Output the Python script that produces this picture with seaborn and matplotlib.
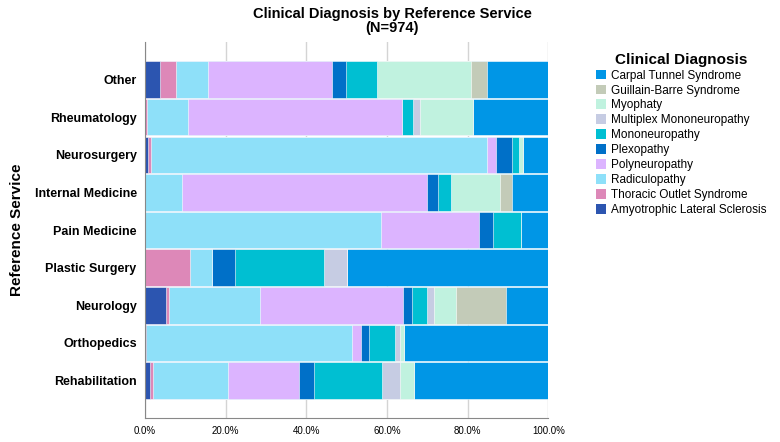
import numpy as np
import pandas as pd
import matplotlib
matplotlib.use('Agg')
from matplotlib import pyplot as plt
from matplotlib.patches import Patch
import seaborn as sns

services = ['Other', 'Rheumatology', 'Neurosurgery', 'Internal Medicine', 'Pain Medicine',
            'Plastic Surgery', 'Neurology', 'Orthopedics', 'Rehabilitation']

# stacking order, left to right (percent of each service)
diagnoses = ['Amyotrophic Lateral Sclerosis', 'Thoracic Outlet Syndrome', 'Radiculopathy',
             'Polyneuropathy', 'Plexopathy', 'Mononeuropathy', 'Multiplex Mononeuropathy',
             'Myophaty', 'Guillain-Barre Syndrome', 'Carpal Tunnel Syndrome']

als       = [3.8, 0.0, 0.7, 0.0, 0.0, 0.0, 5.3, 0.3, 1.2]
tos       = [3.8, 0.5, 0.8, 0.0, 0.0, 11.1, 0.7, 0.0, 0.7]
radic     = [7.9, 10.2, 83.4, 9.1, 58.6, 5.6, 22.5, 51.0, 18.7]
poly      = [30.8, 53.0, 2.3, 60.8, 24.3, 0.0, 35.5, 2.3, 17.6]
plexo     = [3.6, 0.0, 3.9, 2.9, 3.3, 5.5, 2.2, 2.1, 3.8]
mono      = [7.7, 2.7, 1.7, 3.1, 7.0, 22.2, 3.7, 6.4, 16.8]
multiplex = [0.0, 1.8, 0.0, 0.0, 0.0, 5.6, 1.7, 1.1, 4.5]
myo       = [23.2, 13.0, 0.9, 12.2, 0.0, 0.0, 5.6, 1.0, 3.3]
gbs       = [3.9, 0.0, 0.0, 2.9, 0.0, 0.0, 12.4, 0.0, 0.0]
cts       = [15.3, 18.7, 6.4, 9.1, 6.8, 50.0, 10.5, 35.9, 33.4]

colors = ['#2c55b0', '#dd88b8', '#8ee0f9', '#dcb4ff', '#0070c8', '#00bfd2',
          '#c6cce3', '#c0f2df', '#c3cbb8', '#0096e6']

df = pd.DataFrame(dict(zip(diagnoses, [als, tos, radic, poly, plexo, mono,
                                       multiplex, myo, gbs, cts])), index=services)
df = df.div(df.sum(axis=1), axis=0)
cum = df.cumsum(axis=1)

plt.rcParams['font.family'] = ['Liberation Sans', 'DejaVu Sans']
fig = plt.figure(figsize=(7.8, 4.42), dpi=100)
ax = fig.add_axes([0.186, 0.054, 0.517, 0.851])

for diag, col in reversed(list(zip(diagnoses, colors))):
    sns.barplot(x=cum[diag].values, y=services, orient='h', color=col, width=0.97,
                saturation=1, edgecolor='white', linewidth=0.4, ax=ax, zorder=2)

ax.set_xlim(0, 1)
ax.set_ylim(9.0, -1.0)
ax.set_xticks(np.arange(0, 1.01, 0.2))
ax.set_xticklabels([f'{v*100:.1f}%' for v in np.arange(0, 1.01, 0.2)], fontsize=7)
ax.xaxis.grid(True, color='#d4d4d4', linewidth=1, zorder=0)
ax.set_axisbelow(True)
ax.tick_params(axis='both', length=0, pad=6)
for lbl in ax.get_yticklabels():
    lbl.set_fontweight('bold')
    lbl.set_fontsize(9)
ax.set_xlabel('')
ax.set_ylabel('Reference Service', fontsize=11, fontweight='bold', labelpad=8)
for s in ['top', 'right']:
    ax.spines[s].set_visible(False)
for s in ['left', 'bottom']:
    ax.spines[s].set_color('#888888')

fig.suptitle('Clinical Diagnosis by Reference Service\n(N=974)', x=0.503, y=0.985,
             fontsize=10.5, fontweight='bold', linespacing=1.05)

handles = [Patch(facecolor=c, edgecolor='none', label=d)
           for d, c in reversed(list(zip(diagnoses, colors)))]
leg = fig.legend(handles=handles, loc='upper left', bbox_to_anchor=(0.75, 0.905),
                 frameon=False, fontsize=8.5, title='Clinical Diagnosis',
                 title_fontproperties={'weight': 'bold', 'size': 11},
                 handlelength=0.9, handleheight=0.9, handletextpad=0.4,
                 labelspacing=0.25, alignment='center')

fig.savefig('out.png', dpi=100)
